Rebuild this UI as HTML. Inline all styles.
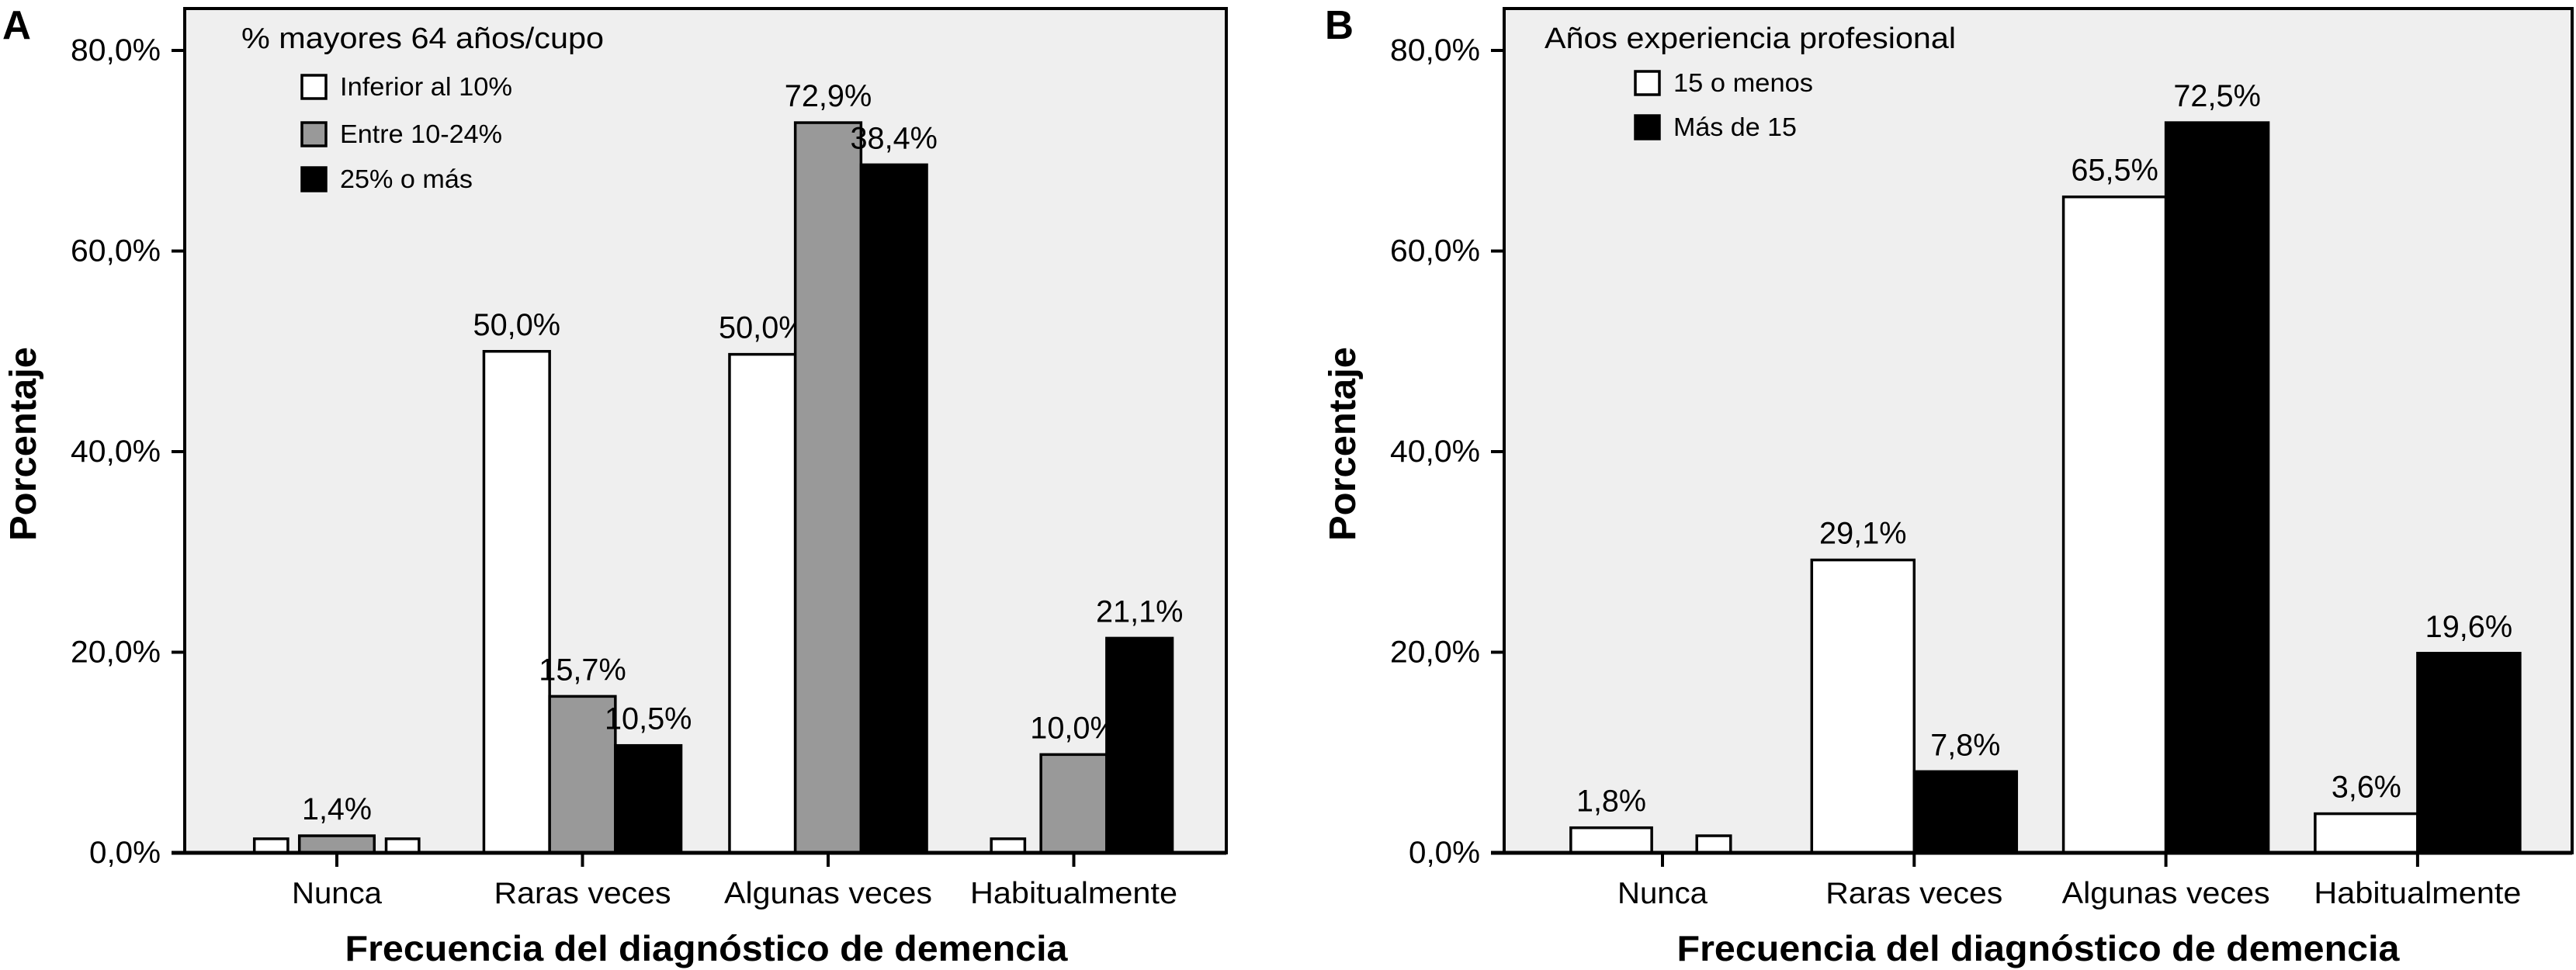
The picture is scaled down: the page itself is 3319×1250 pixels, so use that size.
<!DOCTYPE html>
<html><head><meta charset="utf-8"><style>
html,body{margin:0;padding:0;background:#fff}
svg{display:block}
text{font-family:"Liberation Sans",sans-serif;fill:#000}
</style></head><body>
<svg id="chart" xmlns="http://www.w3.org/2000/svg" width="3319" height="1250" viewBox="0 0 3319 1250"></svg>
<script>
// ---- data ----
const categories = ["Nunca", "Raras veces", "Algunas veces", "Habitualmente"];
const yTicks = [0, 20, 40, 60, 80];
const yTickLabels = ["0,0%", "20,0%", "40,0%", "60,0%", "80,0%"];

const seriesA = ["Inferior al 10%", "Entre 10-24%", "25% o más"];
const valuesA0 = [1.4, 50.0, 49.7, 1.4];
const valuesA1 = [1.7, 15.6, 72.8, 9.8];
const valuesA2 = [1.4, 10.7, 68.6, 21.4];
const labelsA0 = ["", "50,0%", "50,0%", ""];
const labelsA1 = ["1,4%", "15,7%", "72,9%", "10,0%"];
const labelsA2 = ["", "10,5%", "38,4%", "21,1%"];

const seriesB = ["15 o menos", "Más de 15"];
const valuesB0 = [2.5, 29.2, 65.4, 3.9];
const valuesB1 = [1.7, 8.1, 72.8, 19.9];
const labelsB0 = ["1,8%", "29,1%", "65,5%", "3,6%"];
const labelsB1 = ["", "7,8%", "72,5%", "19,6%"];

const svg = document.getElementById('chart');
const NS = 'http://www.w3.org/2000/svg';
function mk(tag, attrs, parent) {
  const e = document.createElementNS(NS, tag);
  for (const k in attrs) e.setAttribute(k, attrs[k]);
  (parent || svg).appendChild(e);
  return e;
}
function txt(str, attrs, parent) {
  const e = mk('text', attrs, parent);
  e.textContent = str;
  return e;
}

function panel(cfg) {
  const g = mk('g', {});
  
  
  const L = cfg.left, R = cfg.right, T = 11, B = 1099;
  const yScale = v => B - (v / 80) * (B - 65);
  const xCenter = i => L + cfg.firstOff + cfg.step * i;

  const bg = mk('rect', {x: L, y: T, width: R - L, height: B - T, fill: '#efefef', stroke: '#000', 'stroke-width': 4}, g);
  
  

  yTicks.forEach((t, i) => {
    const y = yScale(t);
    const tk = mk('line', {x1: L - 17, x2: L, y1: y, y2: y, stroke: '#000', 'stroke-width': 4}, g);
    
    
    const lab = yTickLabels[i];
    const tl = txt(lab, {x: L - 31, y: y + 13, 'font-size': 40, 'text-anchor': 'end', textLength: lab.length === 5 ? 116 : 92, lengthAdjust: 'spacingAndGlyphs'}, g);
    
    
  });

  const n = cfg.values.length;
  cfg.values.forEach((vals, s) => {
    vals.forEach((v, i) => {
      const cx = xCenter(i) + (s - (n - 1) / 2) * cfg.barW;
      const w = cfg.barW * cfg.widthFactor[s][i];
      const y = yScale(v);
      const r = mk('rect', {x: cx - w / 2, y: y, width: w, height: B - y, fill: cfg.fills[s][i], stroke: '#000', 'stroke-width': 3.5}, g);
      
      
      const lab = cfg.labels[s][i];
      if (lab) {
        const t = txt(lab, {x: cx, y: y - 21, 'font-size': 40, 'text-anchor': 'middle', textLength: lab.length * 22.5, lengthAdjust: 'spacingAndGlyphs'}, g);
        
        
      }
    });
  });

  const ax = mk('line', {x1: L - 17, x2: R, y1: B, y2: B, stroke: '#000', 'stroke-width': 5}, g);
  
  
  const catW = [116, 228, 268, 267];
  categories.forEach((c, i) => {
    const x = xCenter(i);
    const tk = mk('line', {x1: x, x2: x, y1: B, y2: B + 18, stroke: '#000', 'stroke-width': 4}, g);
    
    
    const t = txt(c, {x: x, y: 1164, 'font-size': 39, 'text-anchor': 'middle', textLength: catW[i], lengthAdjust: 'spacingAndGlyphs'}, g);
    
    
  });

  const xt = txt('Frecuencia del diagnóstico de demencia', {x: cfg.xTitleX, y: 1238, 'font-size': 46, 'font-weight': 'bold', 'text-anchor': 'middle', textLength: 931, lengthAdjust: 'spacingAndGlyphs'}, g);
  
  

  const yt = txt('Porcentaje', {x: 0, y: 0, 'font-size': 48, 'font-weight': 'bold', 'text-anchor': 'middle', textLength: 250, lengthAdjust: 'spacingAndGlyphs', transform: 'translate(' + cfg.yTitleX + ',572) rotate(-90)'}, g);
  
  

  const pl = txt(cfg.letter, {x: cfg.letterX, y: 50, 'font-size': 52, 'font-weight': 'bold', textLength: 37, lengthAdjust: 'spacingAndGlyphs'}, g);
  
  

  const lg = mk('g', {}, g);
  
  
  const ttl = txt(cfg.legendTitle, {x: cfg.legTitleX, y: 62, 'font-size': 38, textLength: cfg.legTitleW, lengthAdjust: 'spacingAndGlyphs'}, lg);
  
  
  cfg.series.forEach((s, k) => {
    const y0 = cfg.legY[k];
    const sw = mk('rect', {x: cfg.legSqX, y: y0, width: 31, height: 30, fill: cfg.legFill[k], stroke: '#000', 'stroke-width': 3.5}, lg);
    
    
    const t = txt(s, {x: cfg.legSqX + 49, y: y0 + 26, 'font-size': 33, textLength: cfg.legTextW[k], lengthAdjust: 'spacingAndGlyphs'}, lg);
    
    
  });
}

panel({
  name: 'panel-a', left: 238, right: 1580, barW: 84.7, firstOff: 196, step: 316.5,
  values: [valuesA0, valuesA1, valuesA2],
  labels: [labelsA0, labelsA1, labelsA2],
  widthFactor: [[0.51, 1, 1, 0.51], [1.14, 1, 1, 1], [0.5, 1, 1, 1]],
  fills: [['#fff', '#fff', '#fff', '#fff'], ['#999', '#999', '#999', '#999'], ['#fff', '#000', '#000', '#000']],
  xTitleX: 910, yTitleX: 46, letter: 'A', letterX: 3,
  legendTitle: '% mayores 64 años/cupo', legTitleX: 311, legTitleW: 467,
  series: seriesA, legSqX: 389, legY: [97, 158, 216], legFill: ['#fff', '#999', '#000'], legTextW: [222, 209, 171]
});
panel({
  name: 'panel-b', left: 1938, right: 3314, barW: 132, firstOff: 204, step: 324.3,
  values: [valuesB0, valuesB1],
  labels: [labelsB0, labelsB1],
  widthFactor: [[0.79, 1, 1, 1], [0.33, 1, 1, 1]],
  fills: [['#fff', '#fff', '#fff', '#fff'], ['#fff', '#000', '#000', '#000']],
  xTitleX: 2626, yTitleX: 1746, letter: 'B', letterX: 1707,
  legendTitle: 'Años experiencia profesional', legTitleX: 1990, legTitleW: 530,
  series: seriesB, legSqX: 2107, legY: [92, 149], legFill: ['#fff', '#000'], legTextW: [180, 159]
});
</script>
</body></html>
